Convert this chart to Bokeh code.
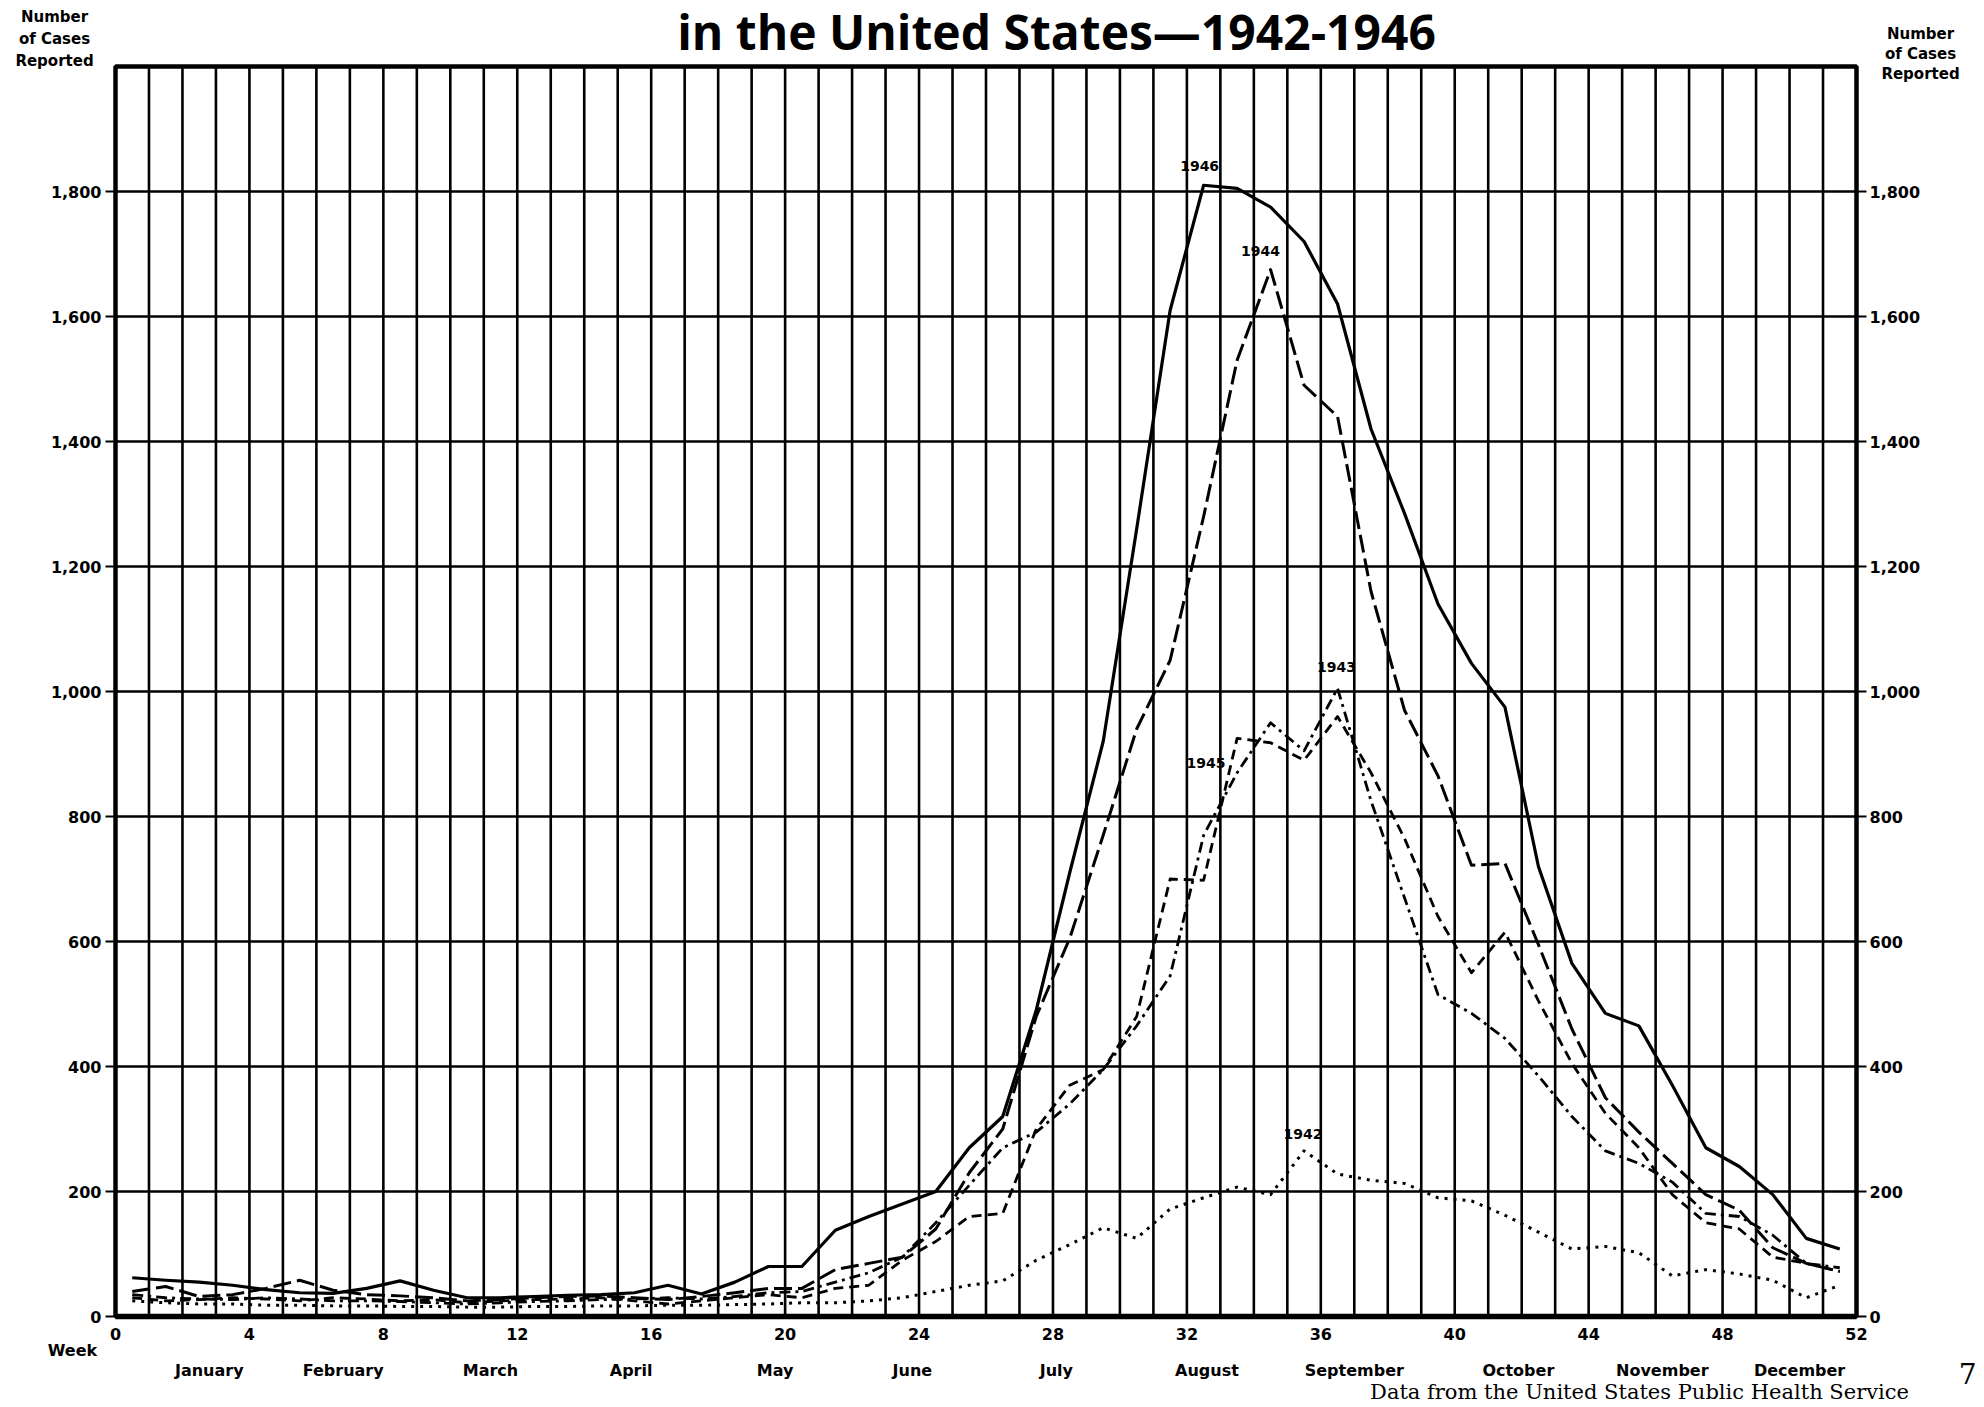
from bokeh.plotting import figure
from bokeh.models import Range1d
from bokeh.core.properties import value
from bokeh.embed import file_html
from bokeh.resources import INLINE

# ---------------- data ----------------
weeks = list(range(1, 53))  # week numbers; plotted at the middle of each week column

cases_1942 = [25, 22, 20, 20, 18, 18, 17, 17, 16, 16, 15, 15, 16, 16, 17, 17, 18, 18, 19, 20,
              22, 22, 25, 30, 40, 50, 57, 90, 115, 142, 125, 172, 190, 207, 195, 265, 228, 218,
              213, 190, 185, 162, 135, 108, 112, 102, 65, 75, 68, 58, 30, 50]
cases_1943 = [35, 30, 28, 27, 30, 28, 25, 25, 24, 22, 20, 22, 24, 25, 27, 28, 30, 28, 32, 38,
              40, 55, 70, 95, 150, 210, 270, 295, 340, 395, 465, 545, 770, 870, 950, 905, 1005,
              825, 670, 515, 485, 445, 385, 320, 265, 245, 215, 165, 160, 130, 85, 78]
cases_1944 = [40, 48, 32, 35, 45, 58, 42, 35, 33, 30, 25, 27, 30, 32, 33, 30, 27, 32, 38, 45,
              45, 75, 85, 95, 140, 230, 300, 480, 605, 770, 940, 1050, 1280, 1530, 1675, 1490,
              1440, 1160, 970, 865, 722, 725, 595, 460, 350, 295, 245, 195, 170, 110, 85, 72]
cases_1945 = [30, 25, 27, 30, 28, 25, 30, 28, 25, 27, 22, 25, 27, 28, 30, 25, 20, 25, 30, 35,
              30, 45, 50, 90, 120, 160, 165, 300, 370, 395, 480, 700, 698, 925, 918, 890, 960,
              870, 765, 640, 550, 615, 505, 405, 325, 270, 195, 150, 140, 95, 85, 72]
cases_1946 = [62, 58, 55, 50, 43, 38, 37, 45, 57, 42, 30, 30, 32, 34, 35, 38, 50, 36, 55, 80,
              80, 138, 160, 180, 200, 270, 320, 490, 710, 920, 1260, 1610, 1810, 1805, 1775,
              1720, 1620, 1420, 1285, 1140, 1045, 975, 720, 565, 485, 465, 370, 270, 240, 195,
              125, 108]

years = ["1942", "1943", "1944", "1945", "1946"]
week_ticks = list(range(0, 53, 4))
case_ticks = list(range(0, 1801, 200))
week_lines = list(range(0, 53))
case_lines = list(range(200, 1801, 200))
WEEK_MAX, CASE_MAX = 52, 2000
months = ["January", "February", "March", "April", "May", "June", "July", "August",
          "September", "October", "November", "December"]
month_centers = [2.8, 6.8, 11.2, 15.4, 19.7, 23.8, 28.1, 32.6, 37.0, 41.9, 46.2, 50.3]

# ---------------- layout (page pixels) ----------------
W, H = 1980, 1404
ORIGIN = 0
FRAME_L, FRAME_R, FRAME_T, FRAME_B = 115, 1856, 66, 1316
ppw = (FRAME_R - FRAME_L) / WEEK_MAX      # pixels per week
ppc = (FRAME_B - FRAME_T) / CASE_MAX      # pixels per case
x_start = (ORIGIN - FRAME_L) / ppw
x_end = x_start + W / ppw
y_end = (FRAME_B - ORIGIN) / ppc
y_start = y_end - H / ppc


def X(px):
    return x_start + (px - ORIGIN) / ppw


def Y(py):
    return y_end - (py - ORIGIN) / ppc


p = figure(width=W, height=H, x_range=Range1d(x_start, x_end), y_range=Range1d(y_start, y_end),
           output_backend="svg", toolbar_location=None, min_border=0)
p.axis.visible = False
p.grid.visible = False
p.outline_line_color = None
p.background_fill_color = "white"
p.border_fill_color = "white"

SANS = value("DejaVu Sans")
SERIF = value("DejaVu Serif")
TITLE_FONT = value("Open Sans")

# grid: a line for every week, and every 200 cases
p.segment(x0=week_lines, x1=week_lines, y0=[0] * len(week_lines), y1=[CASE_MAX] * len(week_lines),
          line_color="black", line_width=2.6)
p.segment(x0=[0] * len(case_lines), x1=[WEEK_MAX] * len(case_lines), y0=case_lines, y1=case_lines,
          line_color="black", line_width=2.6)
p.quad(left=[0], right=[WEEK_MAX], bottom=[0], top=[CASE_MAX], fill_color=None,
       line_color="black", line_width=4.5)
p.segment(x0=[0], x1=[WEEK_MAX], y0=[0], y1=[0], line_color="black", line_width=5.5)

# tick marks
p.segment(x0=[X(FRAME_L - 10)] * len(case_ticks), x1=[0] * len(case_ticks), y0=case_ticks,
          y1=case_ticks, line_color="black", line_width=2)
p.segment(x0=[WEEK_MAX] * len(case_ticks), x1=[X(FRAME_R + 10)] * len(case_ticks), y0=case_ticks,
          y1=case_ticks, line_color="black", line_width=2)

# tick labels
case_labels = [f"{v:,}" for v in case_ticks]
p.text(x=[X(FRAME_L - 14)] * len(case_ticks), y=case_ticks, text=case_labels, text_align="right",
       text_baseline="middle", text_font=SANS, text_font_style="bold", text_font_size="16px",
       text_color="black")
p.text(x=[X(FRAME_R + 13)] * len(case_ticks), y=case_ticks, text=case_labels, text_align="left",
       text_baseline="middle", text_font=SANS, text_font_style="bold", text_font_size="16px",
       text_color="black")
p.text(x=week_ticks, y=[Y(FRAME_B + 17)] * len(week_ticks), text=[str(w) for w in week_ticks],
       text_align="center", text_baseline="middle", text_font=SANS, text_font_style="bold",
       text_font_size="16px", text_color="black")
p.text(x=month_centers, y=[Y(1370)] * len(months), text=months, text_align="center",
       text_baseline="middle", text_font=SANS, text_font_style="bold", text_font_size="16px",
       text_color="black")
p.text(x=[X(72)], y=[Y(1350)], text=["Week"], text_align="center", text_baseline="middle",
       text_font=SANS, text_font_style="bold", text_font_size="16px", text_color="black")

# ---------------- series ----------------
xs = [w - 0.5 for w in weeks]
series = [cases_1942, cases_1943, cases_1944, cases_1945, cases_1946]
dashes = ["3 6", "11 5 3 5", "18 6", "10 6", "solid"]
widths = [3, 2.8, 3, 2.8, 3.2]
for vals, dash, lw in zip(series, dashes, widths):
    p.line(xs, vals, line_color="black", line_width=lw, line_dash=dash, line_join="round")


def peak(vals):
    i = max(range(len(vals)), key=lambda k: vals[k])
    return xs[i], vals[i]


# year labels anchored to their curves (offsets in pixels)
label_pos = {}
for yr, vals in zip(years, series):
    label_pos[yr] = peak(vals)
label_pos["1945"] = (xs[33], cases_1945[33])   # early-September shoulder of 1945
label_shift = {"1942": (-1, 17), "1943": (-1, 21), "1944": (-10, 19), "1945": (-31, -25),
               "1946": (-4, 19)}
lx = [label_pos[yr][0] + label_shift[yr][0] / ppw for yr in years]
ly = [label_pos[yr][1] + label_shift[yr][1] / ppc for yr in years]
p.text(x=lx, y=ly, text=years, text_align="center", text_baseline="middle", text_font=SANS,
       text_font_style="bold", text_font_size="14px", text_color="black")

# ---------------- titles and notes ----------------
p.text(x=[X(1056)], y=[Y(31)], text=["in the United States\u20141942-1946"], text_align="center",
       text_baseline="middle", text_font=TITLE_FONT, text_font_style="bold",
       text_font_size="48px", text_color="black")
side_lines = ["Number", "of Cases", "Reported"]
p.text(x=[X(54)] * 3, y=[Y(16), Y(38), Y(60)], text=side_lines, text_align="center",
       text_baseline="middle", text_font=SANS, text_font_style="bold", text_font_size="15px",
       text_color="black")
p.text(x=[X(1920)] * 3, y=[Y(33), Y(53), Y(73)], text=side_lines, text_align="center",
       text_baseline="middle", text_font=SANS, text_font_style="bold", text_font_size="15px",
       text_color="black")
p.text(x=[X(1639)], y=[Y(1391)], text=["Data from the United States Public Health Service"],
       text_align="center", text_baseline="middle", text_font=SERIF, text_font_size="21px",
       text_color="black")
p.text(x=[X(1976)], y=[Y(1373)], text=["7"], text_align="right", text_baseline="middle",
       text_font=SERIF, text_font_size="28px", text_color="black")

open("out.html", "w").write(file_html(p, INLINE))
